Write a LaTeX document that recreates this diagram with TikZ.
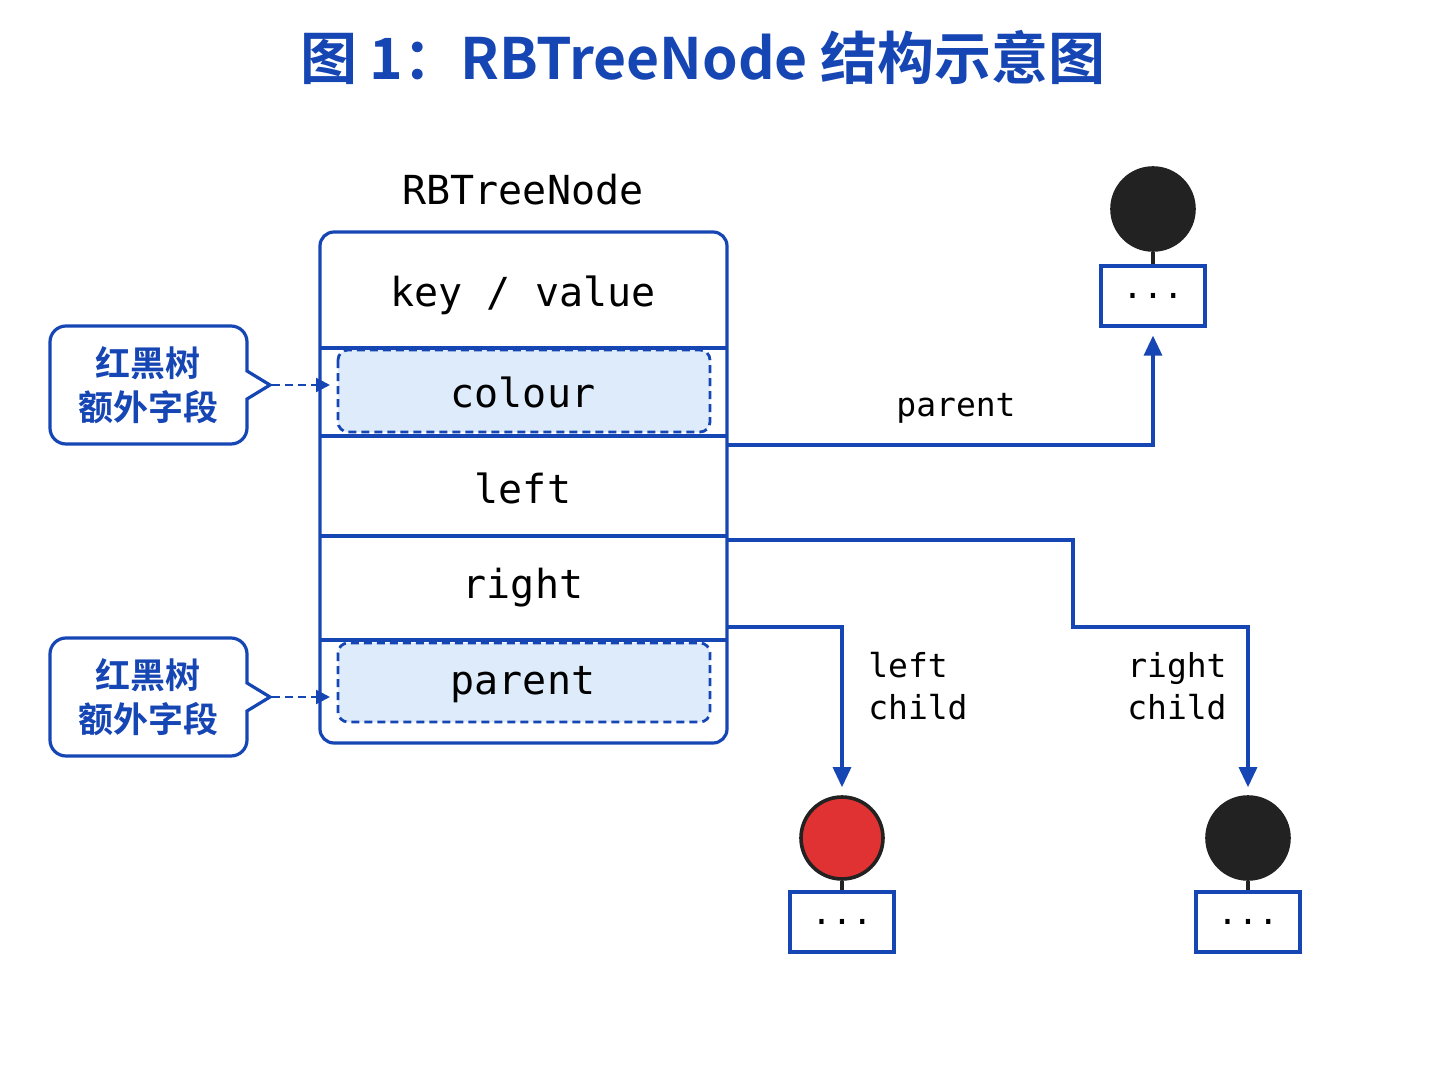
\documentclass[tikz,border=0pt]{standalone}
\usepackage{fontspec}
\setmonofont{DejaVu Sans Mono}
\newfontfamily\cjk{Noto Sans CJK SC}[BoldFont={* Bold}]
\usetikzlibrary{arrows.meta,positioning}
\definecolor{rbblue}{HTML}{1646B4}
\definecolor{rbfill}{HTML}{DDEBFB}
\definecolor{rbred}{HTML}{E03232}
\definecolor{rbblack}{HTML}{222222}
\tikzset{
  every picture/.style={line width=1.6pt},
  field/.style={font=\ttfamily\fontsize{20}{24}\selectfont},
  small/.style={font=\ttfamily\fontsize{16.5}{21}\selectfont},
  extra/.style={draw=rbblue, line width=1.4pt, dash pattern=on 4pt off 2.5pt,
    fill=rbfill, rounded corners=5pt},
  link/.style={draw=rbblue, -{Triangle[length=10pt,width=9pt]}},
  tree/.style={circle, draw=rbblack, line width=1.8pt, minimum size=41pt, inner sep=0pt},
  dots/.style={draw=rbblue, minimum width=52pt, minimum height=30pt,
    font=\ttfamily\fontsize{17}{18}\selectfont},
  note/.style={text=rbblue, align=center, font=\cjk\bfseries\fontsize{17.5}{22}\selectfont}
}
\begin{document}
\begin{tikzpicture}[x=0.5pt,y=-0.5pt]
  \useasboundingbox (0,0) rectangle (1448,1086);

  \node[text=rbblue, font=\cjk\bfseries\fontsize{28.5}{34}\selectfont] (title) at (703,57)
  {图 1：RBTreeNode 结构示意图};
  \node[field] (name) at (523,190) {RBTreeNode};

  % dashed extra fields
  \draw[extra] (338,350) rectangle (710,432);
  \draw[extra] (338,643) rectangle (710,722);

  % the node box
  \draw[rbblue, rounded corners=7pt] (320,232) rectangle (727,743);
  \foreach \y in {348,436,536,640}
    \draw[rbblue] (320,\y) -- (727,\y);

  \node[field] (key) at (523,295) {key / value};
  \node[field] (colour) at (523,392) {colour};
  \node[field] (left) at (523,488) {left};
  \node[field] (right) at (523,588) {right};
  \node[field] (par) at (523,685) {parent};

  % notes
  \foreach \n/\y in {noteA/385, noteB/697} {
    \draw[rbblue, fill=white]
      (247,\y-14) -- (270,\y) -- (247,\y+14)
      [rounded corners=8pt] -- (247,\y+59) -- (50,\y+59) -- (50,\y-59)
      -- (247,\y-59) [sharp corners] -- (247,\y-14) -- cycle;
    \node[note] (\n) at (148,\y) {红黑树\\额外字段};
    \coordinate (\n tip) at (272,\y);
    \coordinate (\n end) at (330,\y);
    \draw[rbblue, line width=1.3pt, dash pattern=on 4pt off 2.5pt,
      -{Triangle[length=7pt,width=7pt]}] (\n tip) -- (\n end);
  }

  % tree nodes
  \node[tree, fill=rbblack] (pc) at (1153,209) {};
  \node[dots] (pd) at (1153,296) {...};
  \node[tree, fill=rbred] (lc) at (842,838) {};
  \node[dots] (ld) at (842,922) {...};
  \node[tree, fill=rbblack] (rc) at (1248,838) {};
  \node[dots] (rd) at (1248,922) {...};
  \foreach \a/\b in {pc/pd, lc/ld, rc/rd}
    \draw[rbblack, line width=1.8pt] (\a) -- (\b);

  % connectors
  \coordinate (pout) at (727,445);
  \coordinate (lout) at (727,627);
  \coordinate (rout) at (727,540);
  \draw[link] (pout) -| ([yshift=-4pt]pd.south);
  \draw[link] (lout) -| ([yshift=4pt]lc.north);
  \draw[link] (rout) -- (1073,540) -- (1073,627) -| ([yshift=4pt]rc.north);

  \node[small] (plabel) at (956,408) {parent};
  \node[small, align=left, anchor=west] (llabel) at (860,686) {left\\child};
  \node[small, align=left, anchor=west] (rlabel) at (1119,686) {right\\child};
\end{tikzpicture}
\end{document}
